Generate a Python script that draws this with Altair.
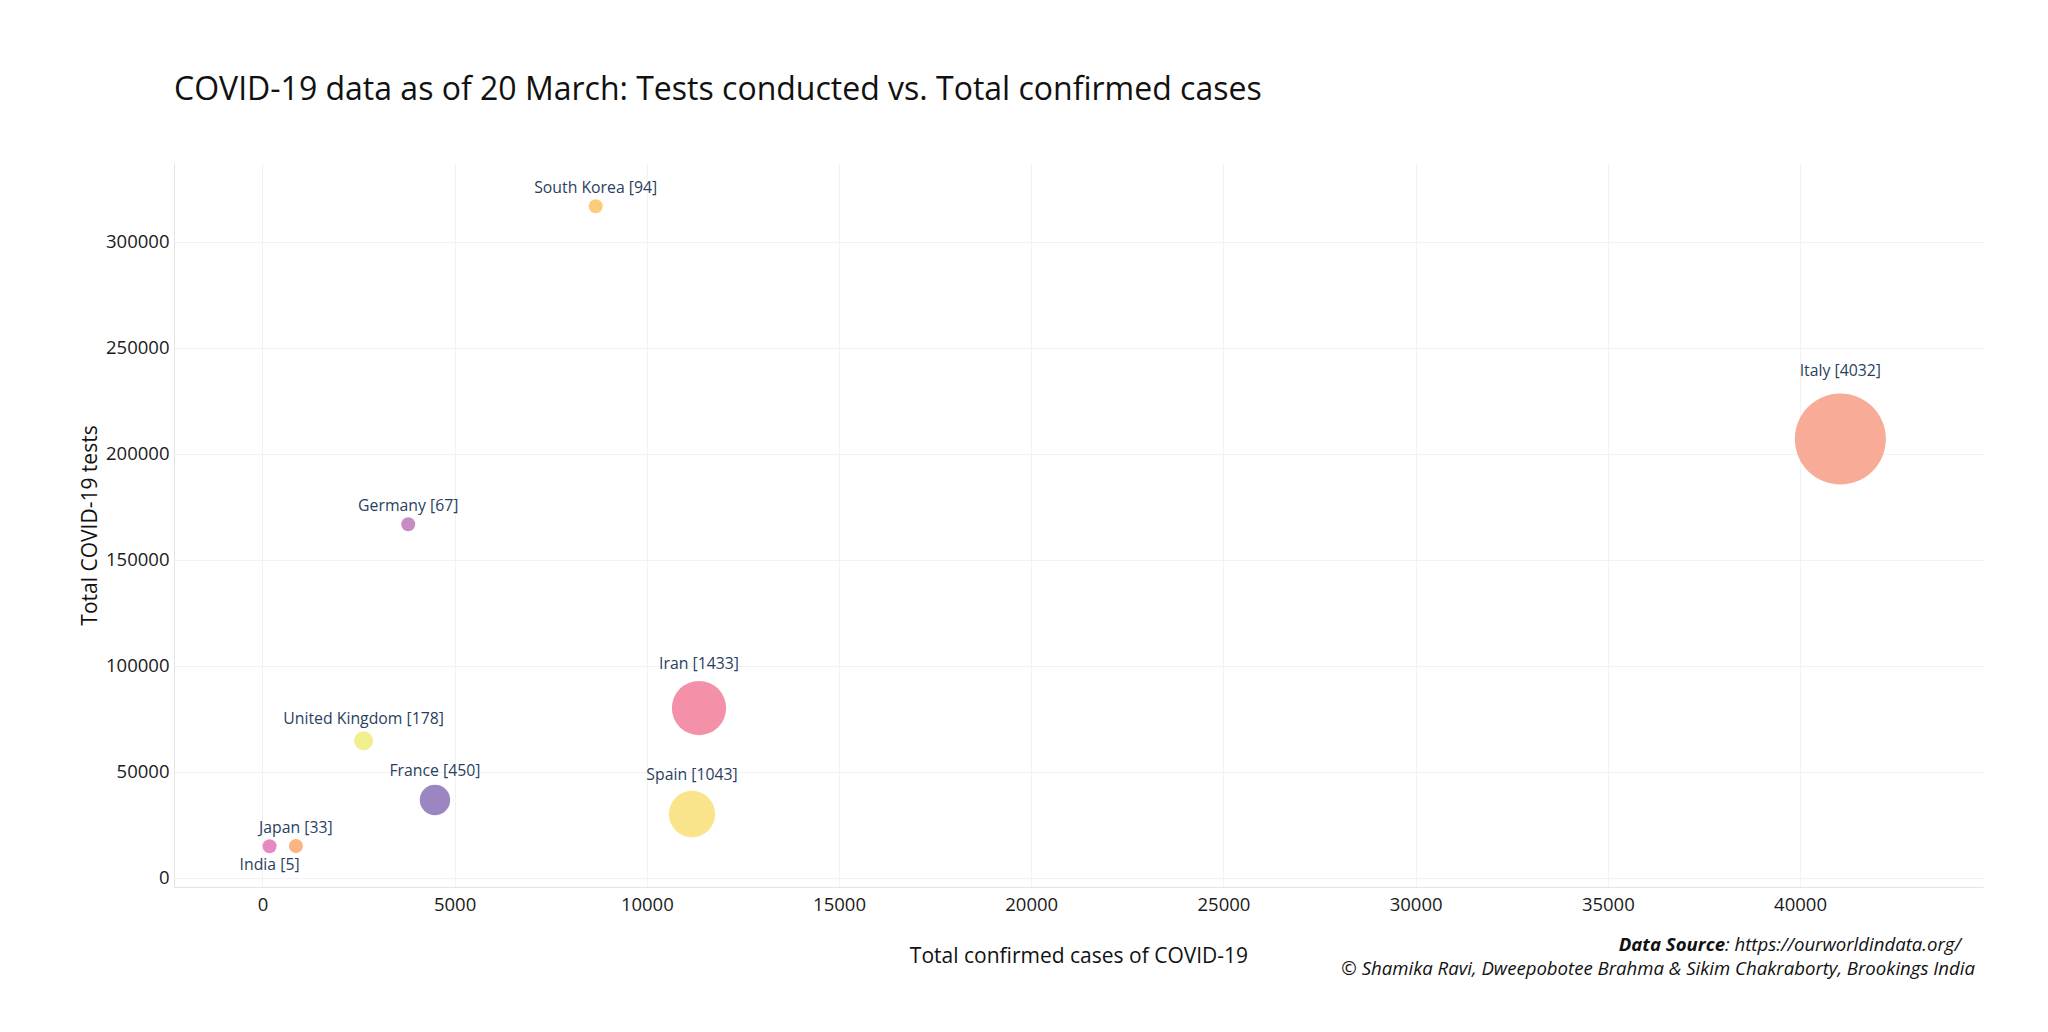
import altair as alt
import pandas as pd

# ---- data ----
countries = ["India", "Japan", "United Kingdom", "France", "South Korea",
             "Germany", "Iran", "Spain", "Italy"]
confirmed_cases = [187, 872, 2633, 4489, 8670, 3794, 11358, 11176, 41049]
total_tests = [14800, 14900, 64528, 36604, 316650, 166650, 80000, 30000, 206887]
deaths = [5, 33, 178, 450, 94, 67, 1433, 1043, 4032]
label_side = [-1, 1, 1, 1, 1, 1, 1, 1, 1]   # -1 = label below, 1 = label above
colors = ["#e78ac3", "#fbb482", "#f2ef8f", "#9c86c2", "#fccc7b",
          "#c98bc3", "#f491a9", "#f9e48b", "#f8ab97"]

x_ticks = [0, 5000, 10000, 15000, 20000, 25000, 30000, 35000, 40000]
y_ticks = [0, 50000, 100000, 150000, 200000, 250000, 300000]
x_domain = [-2300, 44760]
y_domain = [-4430, 337075]

title_text = "COVID-19 data as of 20 March: Tests conducted vs. Total confirmed cases"
source_bold = "Data Source"
source_rest = " : https://ourworldindata.org/"
credit = "\u00a9 Shamika Ravi, Dweepobotee Brahma & Sikim Chakraborty, Brookings India"

# ---- layout ----
W, H = 1809, 724
FONT = "Open Sans"
MAX_AREA = 8281          # vega circle: diameter = sqrt(size)
MIN_DEATHS = 95
data_per_px = (y_domain[1] - y_domain[0]) / H

df = pd.DataFrame({
    "country": countries,
    "cases": confirmed_cases,
    "tests": total_tests,
    "deaths": deaths,
    "side": label_side,
})
df["label"] = [f"{c} [{d}]" for c, d in zip(countries, deaths)]

xs = alt.Scale(domain=x_domain, nice=False, zero=False)
ys = alt.Scale(domain=y_domain, nice=False, zero=False)

base = alt.Chart(df).transform_calculate(
    size_val=f"max(datum.deaths, {MIN_DEATHS})"
).transform_calculate(
    radius=f"sqrt(datum.size_val / {max(deaths)} * {MAX_AREA}) / 2"
).transform_calculate(
    label_y=f"datum.tests + datum.side * (1.28 * datum.radius + 9.5) * {data_per_px}"
)

points = base.mark_circle(opacity=1).encode(
    x=alt.X("cases:Q", scale=xs,
            axis=alt.Axis(values=x_ticks, format="d", title="Total confirmed cases of COVID-19",
                          grid=True, gridColor="#f2f2f2", domainColor="#e4e4e4",
                          ticks=False, labelFontSize=18.5, labelFont=FONT, labelColor="#1a1a1a",
                          labelPadding=8, titleFont=FONT, titleFontSize=21,
                          titleFontWeight="normal", titleColor="#111111", titlePadding=32)),
    y=alt.Y("tests:Q", scale=ys,
            axis=alt.Axis(values=y_ticks, format="d", title="Total COVID-19 tests",
                          grid=True, gridColor="#f2f2f2", domainColor="#e4e4e4",
                          ticks=False, labelFontSize=18.5, labelFont=FONT, labelColor="#1a1a1a",
                          labelPadding=5, titleFont=FONT, titleFontSize=21,
                          titleFontWeight="normal", titleColor="#111111", titlePadding=5)),
    size=alt.Size("size_val:Q", scale=alt.Scale(type="linear", domain=[0, max(deaths)],
                                                range=[0, MAX_AREA]), legend=None),
    color=alt.Color("country:N", scale=alt.Scale(domain=countries, range=colors), legend=None),
)

labels = base.mark_text(font=FONT, fontSize=15.8, color="#2a3f5f", baseline="middle",
                        align="center").encode(
    x=alt.X("cases:Q", scale=xs),
    y=alt.Y("label_y:Q", scale=ys),
    text="label:N",
)

SRC_FS = 18.6
src1 = alt.Chart(pd.DataFrame({"t": [source_bold]})).mark_text(
    font=FONT, fontSize=SRC_FS, fontStyle="italic", fontWeight="bold", color="#111111",
    align="right", baseline="middle").encode(
    x=alt.value(1551), y=alt.value(782), text="t:N")
src2 = alt.Chart(pd.DataFrame({"t": [source_rest]})).mark_text(
    font=FONT, fontSize=SRC_FS, fontStyle="italic", color="#111111",
    align="left", baseline="middle").encode(
    x=alt.value(1551), y=alt.value(782), text="t:N")
src3 = alt.Chart(pd.DataFrame({"t": [credit]})).mark_text(
    font=FONT, fontSize=SRC_FS, fontStyle="italic", color="#111111",
    align="right", baseline="middle").encode(
    x=alt.value(1801), y=alt.value(806), text="t:N")

chart = alt.layer(points, labels, src1, src2, src3).properties(
    width=W, height=H,
    autosize=alt.AutoSizeParams(type="none"),
    padding={"left": 166, "top": 155, "right": 40, "bottom": 130},
    background="white",
    title=alt.TitleParams(text=title_text, anchor="start", frame="group", font=FONT,
                          fontSize=32, fontWeight="normal", color="#111111", offset=56),
).configure_view(stroke="transparent", strokeWidth=0)

chart.save("out.html", embed_options={"renderer": "svg", "actions": False})
